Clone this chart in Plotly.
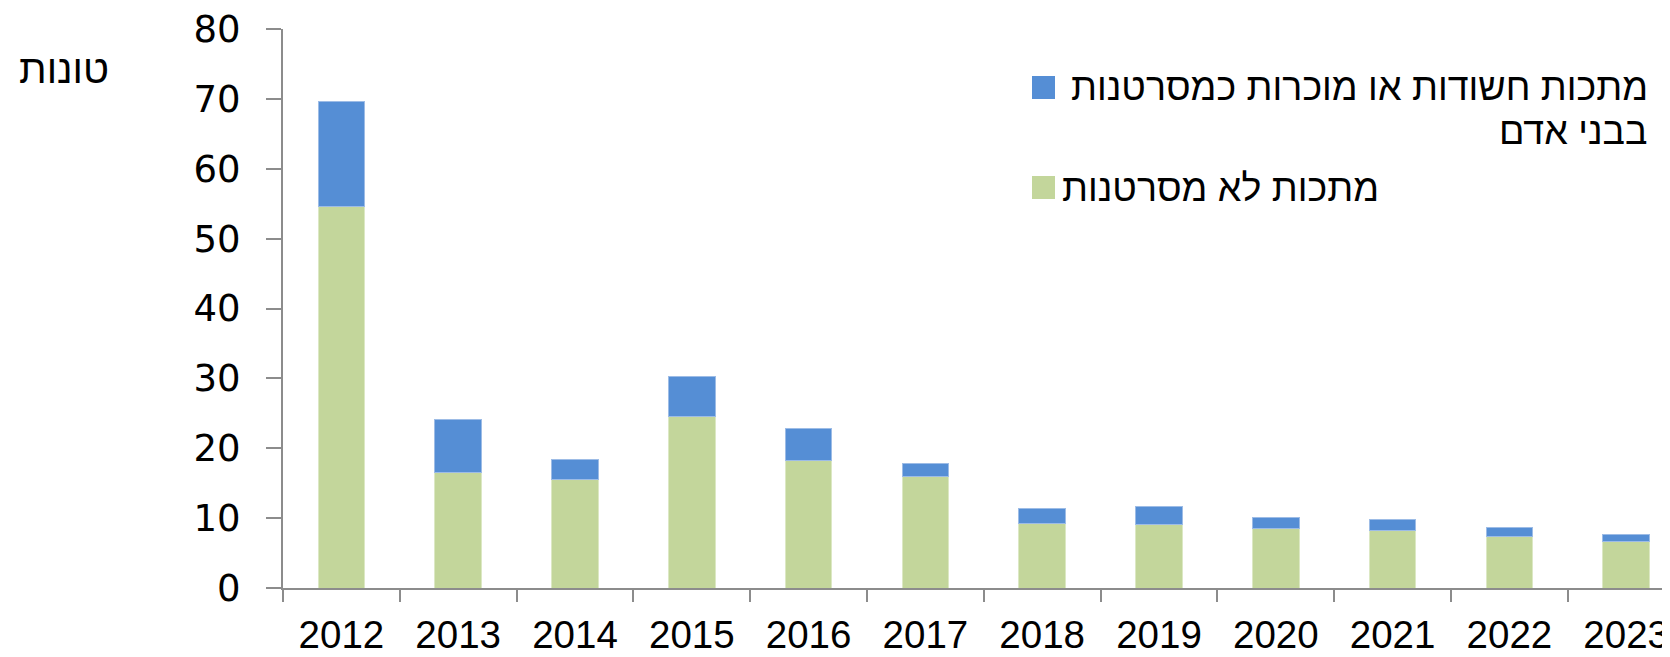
import plotly.graph_objects as go

years = ["2012", "2013", "2014", "2015", "2016", "2017", "2018", "2019", "2020", "2021", "2022", "2023"]
non_carcinogenic = [54.6, 16.6, 15.6, 24.5, 18.2, 16.0, 9.2, 9.1, 8.5, 8.2, 7.4, 6.6]
carcinogenic = [15.0, 7.5, 2.8, 5.8, 4.6, 1.8, 2.2, 2.5, 1.6, 1.6, 1.3, 1.1]

name_carc_line1 = "מתכות חשודות או מוכרות כמסרטנות"
name_carc_line2 = "בבני אדם"
name_non = "מתכות לא מסרטנות"
y_title = "טונות"

green = "#C3D69B"
blue = "#558ED5"
axis_gray = "#8C8C8C"

# figure geometry (page body has an 8px margin)
W, H = 1662, 649
L, T, B, R = 275, 21, 69, 0
PW, PH = W - L - R, H - T - B
OFF = 8


def px(xs):
    return (xs - OFF - L) / PW


def py(ys):
    return 1 - (ys - OFF - T) / PH


fig = go.Figure()
fig.add_trace(go.Bar(x=years, y=non_carcinogenic, name=name_non,
                     marker=dict(color=green, line=dict(color="#DCE8C4", width=1)),
                     showlegend=False))
fig.add_trace(go.Bar(x=years, y=carcinogenic, name=name_carc_line1 + " " + name_carc_line2,
                     marker=dict(color=blue, line=dict(color="#9DBCE6", width=1)),
                     showlegend=False))

sans = "Liberation Sans, Arial, sans-serif"
dejavu = "DejaVu Sans, Verdana, sans-serif"

fig.update_layout(
    barmode="stack",
    bargap=0.6,
    width=W, height=H,
    margin=dict(l=L, r=R, t=T, b=B, pad=0, autoexpand=False),
    plot_bgcolor="white", paper_bgcolor="white",
    font=dict(family=sans, color="black", size=35),
    xaxis=dict(type="category", range=[-0.5, -0.5 + PW / 116.8],
               showline=True, linecolor=axis_gray, linewidth=2,
               ticks="outside", tickson="boundaries", ticklen=12, tickwidth=2, tickcolor=axis_gray,
               tickfont=dict(size=38.5, family=sans, color="black"),
               ticklabelstandoff=12, ticklabeloverflow="allow", automargin=False,
               showgrid=False, zeroline=False, fixedrange=True),
    yaxis=dict(range=[0, 80], tickvals=[0, 10, 20, 30, 40, 50, 60, 70, 80],
               showline=True, linecolor=axis_gray, linewidth=2,
               ticks="outside", ticklen=15, tickwidth=2, tickcolor=axis_gray,
               tickfont=dict(size=37, family=dejavu, color="black"),
               ticklabelstandoff=18, ticklabeloverflow="allow", automargin=False,
               showgrid=False, zeroline=False),
)

# Manual legend (right-aligned Hebrew text, squares on the left)
fig.add_shape(type="rect", xref="paper", yref="paper",
              x0=px(1032), x1=px(1055), y0=py(99), y1=py(76),
              fillcolor=blue, line=dict(width=0))
fig.add_shape(type="rect", xref="paper", yref="paper",
              x0=px(1032), x1=px(1055), y0=py(199), y1=py(176),
              fillcolor=green, line=dict(width=0))

leg_font = dict(size=37.6, family=sans, color="black")
fig.add_annotation(text=name_carc_line1, xref="paper", yref="paper",
                   x=px(1650), y=py(87), xanchor="right", yanchor="middle", align="right",
                   showarrow=False, font=leg_font)
fig.add_annotation(text=name_carc_line2, xref="paper", yref="paper",
                   x=px(1650), y=py(131), xanchor="right", yanchor="middle", align="right",
                   showarrow=False, font=leg_font)
fig.add_annotation(text=name_non, xref="paper", yref="paper",
                   x=px(1381), y=py(188), xanchor="right", yanchor="middle", align="right",
                   showarrow=False, font=leg_font)

fig.add_annotation(text=y_title, xref="paper", yref="paper",
                   x=px(111), y=py(69), xanchor="right", yanchor="middle", align="right",
                   showarrow=False, font=dict(size=40, family=sans, color="black"))

fig.write_html("out.html")
